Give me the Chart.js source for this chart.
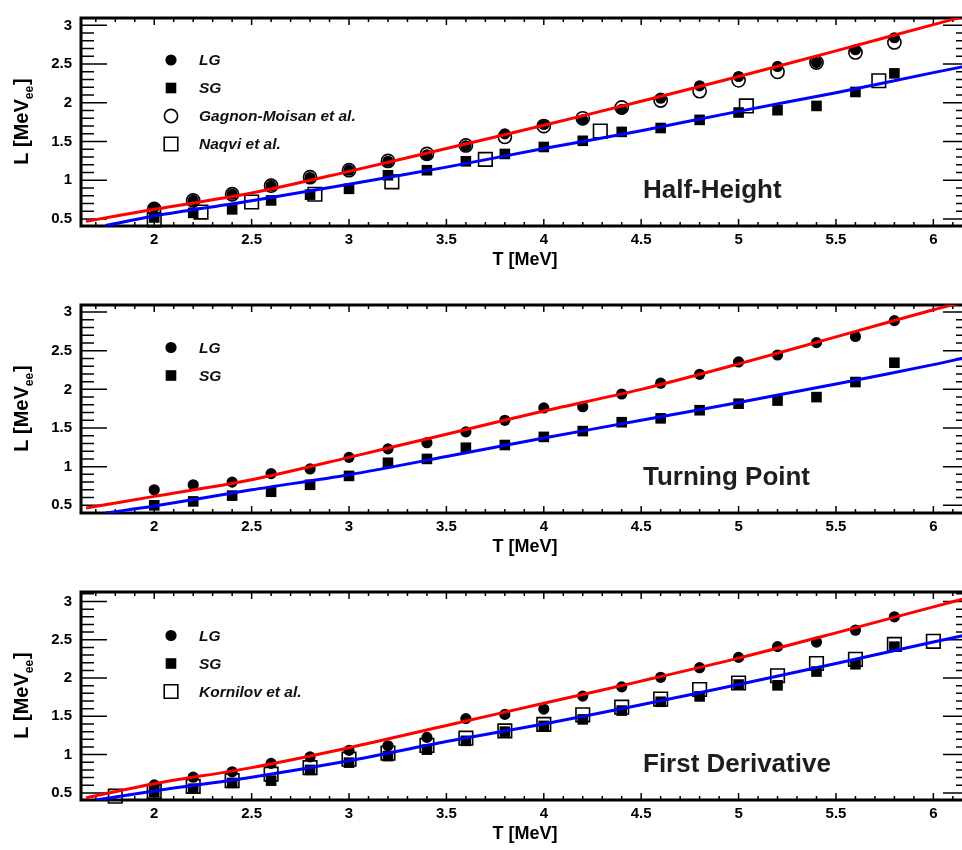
<!DOCTYPE html>
<html>
<head>
<meta charset="utf-8">
<script src="https://cdn.jsdelivr.net/npm/chart.js@4.4.1/dist/chart.umd.min.js"></script>
<style>
html,body{margin:0;padding:0;background:#fff;width:962px;height:850px;overflow:hidden;position:relative;}
.pan{position:absolute;left:0;width:1000px;height:288px;}
canvas{display:block;}
</style>
</head>
<body>
<div class="pan" style="top:0px"><canvas id="c1" width="1000" height="288"></canvas></div>
<div class="pan" style="top:287px"><canvas id="c2" width="1000" height="288"></canvas></div>
<div class="pan" style="top:574px"><canvas id="c3" width="1000" height="288"></canvas></div>
<script>
// ---------- tick labels ----------
const xMajorTicks = [2, 2.5, 3, 3.5, 4, 4.5, 5, 5.5, 6];
const xTickLabels = ['2', '2.5', '3', '3.5', '4', '4.5', '5', '5.5', '6'];
const yMajorTicks = [0.5, 1, 1.5, 2, 2.5, 3];
const yTickLabels = ['0.5', '1', '1.5', '2', '2.5', '3'];
const xTitle = 'T [MeV]';
const yTitleMain = 'L [MeV';
const yTitleSub = 'ee';
const yTitleEnd = ']';

// ---------- common energies ----------
const energies = [2.0, 2.2, 2.4, 2.6, 2.8, 3.0, 3.2, 3.4, 3.6, 3.8, 4.0, 4.2, 4.4, 4.6, 4.8, 5.0, 5.2, 5.4, 5.6, 5.8];

// ---------- Half-Height ----------
const hhLG      = [0.65, 0.74, 0.82, 0.93, 1.035, 1.13, 1.245, 1.33, 1.445, 1.60, 1.72, 1.78, 1.915, 2.06, 2.22, 2.34, 2.47, 2.52, 2.685, 2.84];
const hhSG      = [0.52, 0.58, 0.625, 0.74, 0.815, 0.89, 1.065, 1.13, 1.245, 1.34, 1.43, 1.51, 1.625, 1.675, 1.78, 1.875, 1.905, 1.96, 2.14, 2.38];
const hhGagnon  = [0.63, 0.74, 0.82, 0.93, 1.04, 1.13, 1.25, 1.34, 1.45, 1.56, 1.70, 1.80, 1.94, 2.03, 2.15, 2.29, 2.40, 2.52, 2.65, 2.78];
const naqviT    = [2.0, 2.24, 2.50, 2.825, 3.22, 3.70, 4.29, 5.04, 5.72];
const naqviL    = [0.49, 0.59, 0.72, 0.82, 0.98, 1.27, 1.635, 1.96, 2.285];
const hhRedT    = [1.65, 2.0, 2.5, 3.0, 3.5, 4.0, 4.5, 5.0, 5.5, 6.0, 6.18];
const hhRedL    = [0.47, 0.625, 0.835, 1.115, 1.41, 1.71, 2.02, 2.34, 2.67, 3.01, 3.13];
const hhBlueT   = [1.75, 2.0, 2.5, 3.0, 3.5, 4.0, 4.5, 5.0, 5.5, 6.0, 6.18];
const hhBlueL   = [0.416, 0.54, 0.735, 0.95, 1.17, 1.41, 1.64, 1.89, 2.13, 2.39, 2.48];

// ---------- Turning Point ----------
const tpLG      = [0.70, 0.765, 0.80, 0.91, 0.97, 1.12, 1.23, 1.31, 1.45, 1.60, 1.76, 1.775, 1.94, 2.08, 2.195, 2.355, 2.445, 2.605, 2.685, 2.89];
const tpSG      = [0.50, 0.55, 0.625, 0.675, 0.765, 0.88, 1.05, 1.10, 1.245, 1.28, 1.385, 1.46, 1.575, 1.625, 1.73, 1.815, 1.855, 1.90, 2.095, 2.345];
const tpRedT    = [1.65, 2.0, 2.5, 3.0, 3.5, 4.0, 4.5, 5.0, 5.5, 6.0, 6.18];
const tpRedL    = [0.466, 0.615, 0.83, 1.12, 1.42, 1.72, 2.00, 2.33, 2.68, 3.03, 3.14];
const tpBlueT   = [1.75, 2.0, 2.5, 3.0, 3.5, 4.0, 4.5, 5.0, 5.5, 6.0, 6.18];
const tpBlueL   = [0.40, 0.49, 0.70, 0.895, 1.13, 1.37, 1.60, 1.83, 2.07, 2.32, 2.42];

// ---------- First Derivative ----------
const fdLG      = [0.605, 0.705, 0.775, 0.885, 0.97, 1.055, 1.115, 1.225, 1.47, 1.525, 1.595, 1.765, 1.885, 2.01, 2.135, 2.27, 2.41, 2.47, 2.625, 2.80];
const fdSG      = [0.515, 0.555, 0.63, 0.66, 0.80, 0.895, 0.98, 1.065, 1.18, 1.30, 1.375, 1.46, 1.575, 1.69, 1.76, 1.915, 1.905, 2.085, 2.18, 2.41];
const kornT     = [1.8, 2.0, 2.2, 2.4, 2.6, 2.8, 3.0, 3.2, 3.4, 3.6, 3.8, 4.0, 4.2, 4.4, 4.6, 4.8, 5.0, 5.2, 5.4, 5.6, 5.8, 6.0];
const kornL     = [0.457, 0.52, 0.585, 0.66, 0.745, 0.83, 0.94, 1.02, 1.12, 1.215, 1.31, 1.395, 1.52, 1.62, 1.725, 1.85, 1.935, 2.03, 2.19, 2.245, 2.44, 2.48];
const fdRedT    = [1.65, 2.0, 2.5, 3.0, 3.5, 4.0, 4.5, 5.0, 5.5, 6.0, 6.18];
const fdRedL    = [0.435, 0.62, 0.83, 1.09, 1.38, 1.67, 1.96, 2.26, 2.59, 2.93, 3.05];
const fdBlueT   = [1.70, 2.0, 2.5, 3.0, 3.5, 4.0, 4.5, 5.0, 5.5, 6.0, 6.18];
const fdBlueL   = [0.407, 0.525, 0.705, 0.92, 1.17, 1.40, 1.65, 1.915, 2.19, 2.47, 2.57];

// ---------- helpers ----------
const FONT = '"Liberation Sans", Arial, Helvetica, sans-serif';
const pts = (xs, ys) => xs.map((v, i) => ({x: v, y: ys[i]}));

function markerSet(label, xs, ys, kind) {
  const base = {label, data: pts(xs, ys), showLine: false, clip: false, legendEntry: true,
    pointHoverRadius: 0, pointHitRadius: 0};
  if (kind === 'fcircle') return Object.assign(base, {pointStyle: 'circle', pointRadius: 5.6, backgroundColor: '#000', borderColor: '#000', borderWidth: 0, order: 2});
  if (kind === 'fsquare') return Object.assign(base, {pointStyle: 'rect', pointRadius: 7.5, backgroundColor: '#000', borderColor: '#000', borderWidth: 0, order: 2});
  if (kind === 'ocircle') return Object.assign(base, {pointStyle: 'circle', pointRadius: 6.6, backgroundColor: 'rgba(0,0,0,0)', borderColor: '#000', borderWidth: 1.6, order: 1});
  return Object.assign(base, {pointStyle: 'rect', pointRadius: 9.6, backgroundColor: 'rgba(0,0,0,0)', borderColor: '#000', borderWidth: 1.6, order: 1});
}
function curveSet(xs, ys, color) {
  return {label: '', data: pts(xs, ys), showLine: true, pointRadius: 0, pointHoverRadius: 0,
    borderColor: color, borderWidth: 3, tension: 0.3, clip: 0, order: 0, legendEntry: false, fill: false};
}

const rootFrame = {
  id: 'rootFrame',
  beforeDatasetsDraw(chart) {
    const {ctx, chartArea: a, scales: {x, y}} = chart;
    ctx.save();
    ctx.strokeStyle = '#000';
    ctx.lineWidth = 1.5;
    ctx.beginPath();
    for (let k = 1; k <= 40; k++) {
      const v = k / 10;
      const p = y.getPixelForValue(v);
      if (p < a.top + 1 || p > a.bottom - 1) continue;
      const major = yMajorTicks.some(m => Math.abs(m - v) < 1e-6);
      const L = major ? 26 : 13;
      ctx.moveTo(a.left, p); ctx.lineTo(a.left + L, p);
      ctx.moveTo(a.right, p); ctx.lineTo(a.right - L, p);
    }
    for (let k = 10; k <= 70; k++) {
      const v = k / 10;
      const p = x.getPixelForValue(v);
      if (p < a.left + 1 || p > a.right - 1) continue;
      const major = xMajorTicks.some(m => Math.abs(m - v) < 1e-6);
      const L = major ? 7 : 4;
      ctx.moveTo(p, a.bottom); ctx.lineTo(p, a.bottom - L);
      ctx.moveTo(p, a.top); ctx.lineTo(p, a.top + L);
    }
    ctx.stroke();
    ctx.lineWidth = 3;
    ctx.strokeRect(a.left, a.top, a.right - a.left, a.bottom - a.top);
    ctx.restore();
  },
  afterDraw(chart, args, opts) {
    const {ctx, chartArea: a} = chart;
    ctx.save();
    // legend
    const entries = chart.data.datasets.filter(d => d.legendEntry);
    entries.forEach((d, i) => {
      const cy = a.top + opts.legendTop + 28 * i;
      const cx = 171;
      ctx.beginPath();
      if (d.pointStyle === 'circle') {
        ctx.arc(cx, cy, d.pointRadius, 0, Math.PI * 2);
      } else {
        const s = d.pointRadius * Math.SQRT1_2;
        ctx.rect(cx - s, cy - s, 2 * s, 2 * s);
      }
      if (d.borderWidth > 0) { ctx.lineWidth = d.borderWidth; ctx.strokeStyle = d.borderColor; ctx.stroke(); }
      else { ctx.fillStyle = d.backgroundColor; ctx.fill(); }
      ctx.fillStyle = '#111';
      ctx.font = 'italic bold 15.5px ' + FONT;
      ctx.textAlign = 'left';
      ctx.textBaseline = 'middle';
      ctx.fillText(d.label, 199, cy + 1);
    });
    // panel label
    ctx.fillStyle = '#1e1e1e';
    ctx.font = 'bold 26px ' + FONT;
    ctx.textAlign = 'left';
    ctx.textBaseline = 'alphabetic';
    ctx.fillText(opts.label, 643, a.top + 180);
    // y title with subscript
    ctx.translate(27.5, (a.top + a.bottom) / 2);
    ctx.rotate(-Math.PI / 2);
    ctx.fillStyle = '#000';
    const big = 'bold 20px ' + FONT, small = 'bold 12px ' + FONT;
    ctx.font = big; const w1 = ctx.measureText(yTitleMain).width; const w3 = ctx.measureText(yTitleEnd).width;
    ctx.font = small; const w2 = ctx.measureText(yTitleSub).width;
    let x0 = -(w1 + w2 + w3) / 2;
    ctx.textAlign = 'left'; ctx.textBaseline = 'alphabetic';
    ctx.font = big; ctx.fillText(yTitleMain, x0, 0);
    ctx.font = small; ctx.fillText(yTitleSub, x0 + w1, 5.5);
    ctx.font = big; ctx.fillText(yTitleEnd, x0 + w1 + w2 + 1, 0);
    ctx.restore();
  }
};

function makeChart(id, datasets, yMin, yMax, label, legendTop) {
  return new Chart(document.getElementById(id), {
    type: 'scatter',
    data: {datasets},
    plugins: [rootFrame],
    options: {
      responsive: false, animation: false, devicePixelRatio: 1,
      events: [],
      layout: {padding: {left: 0, top: 13, right: 31, bottom: 0}},
      plugins: {legend: {display: false}, tooltip: {enabled: false},
        rootFrame: {label, legendTop}},
      scales: {
        x: {
          type: 'linear', position: 'bottom', min: 1.624, max: 6.183,
          grid: {display: false, drawTicks: false}, border: {display: false},
          afterBuildTicks: s => { s.ticks = xMajorTicks.map(v => ({value: v})); },
          afterFit: s => { s.height = 62; },
          ticks: {autoSkip: false, maxRotation: 0, padding: 5, color: '#000',
            font: {family: FONT, size: 15, weight: 'bold'},
            callback: (v) => { const i = xMajorTicks.indexOf(v); return i >= 0 ? xTickLabels[i] : ''; }},
          title: {display: true, text: xTitle, color: '#000', align: 'center',
            font: {family: FONT, size: 18, weight: 'bold'}, padding: {top: 0, bottom: 17}}
        },
        y: {
          type: 'linear', position: 'left', min: yMin, max: yMax,
          grid: {display: false, drawTicks: false}, border: {display: false},
          afterBuildTicks: s => { s.ticks = yMajorTicks.map(v => ({value: v})); },
          afterFit: s => { s.width = 81; },
          ticks: {autoSkip: false, padding: 9, color: '#000',
            font: {family: FONT, size: 15, weight: 'bold'},
            callback: (v) => { const i = yMajorTicks.indexOf(v); return i >= 0 ? yTickLabels[i] : ''; }}
        }
      }
    }
  });
}

makeChart('c1', [
  markerSet('LG', energies, hhLG, 'fcircle'),
  markerSet('SG', energies, hhSG, 'fsquare'),
  markerSet('Gagnon-Moisan et al.', energies, hhGagnon, 'ocircle'),
  markerSet('Naqvi et al.', naqviT, naqviL, 'osquare'),
  curveSet(hhRedT, hhRedL, '#ff0000'),
  curveSet(hhBlueT, hhBlueL, '#0000ff')
], 0.41, 3.095, 'Half-Height', 42);

makeChart('c2', [
  markerSet('LG', energies, tpLG, 'fcircle'),
  markerSet('SG', energies, tpSG, 'fsquare'),
  curveSet(tpRedT, tpRedL, '#ff0000'),
  curveSet(tpBlueT, tpBlueL, '#0000ff')
], 0.40, 3.092, 'Turning Point', 42.5);

makeChart('c3', [
  markerSet('LG', energies, fdLG, 'fcircle'),
  markerSet('SG', energies, fdSG, 'fsquare'),
  markerSet('Kornilov et al.', kornT, kornL, 'osquare'),
  curveSet(fdRedT, fdRedL, '#ff0000'),
  curveSet(fdBlueT, fdBlueL, '#0000ff')
], 0.407, 3.124, 'First Derivative', 43.5);
</script>
</body>
</html>
